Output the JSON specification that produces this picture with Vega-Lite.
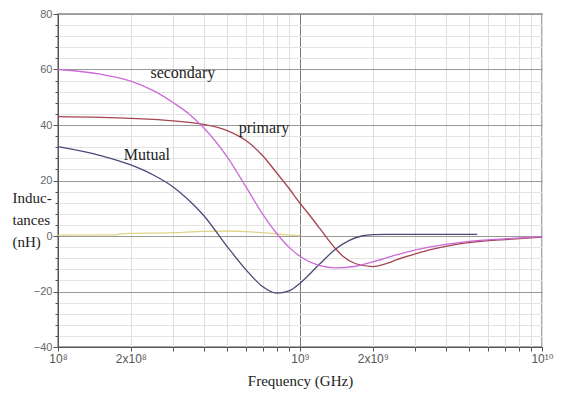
{
  "$schema": "https://vega.github.io/schema/vega-lite/v6.json",
  "width": 484,
  "height": 333,
  "autosize": {"type": "none"},
  "padding": {"left": 58, "top": 14, "right": 21, "bottom": 51},
  "background": "white",
  "config": {"view": {"stroke": "#8a8a8a", "strokeWidth": 1.5}},
  "datasets": {
    "curves": [
      {"series": "yellow", "f": 1e8, "v": 0.3},
      {"series": "yellow", "f": 1.75e8, "v": 0.4},
      {"series": "yellow", "f": 1.8e8, "v": 0.8},
      {"series": "yellow", "f": 3e8, "v": 1.2},
      {"series": "yellow", "f": 4e8, "v": 1.7},
      {"series": "yellow", "f": 5e8, "v": 1.8},
      {"series": "yellow", "f": 6e8, "v": 1.6},
      {"series": "yellow", "f": 7e8, "v": 1.2},
      {"series": "yellow", "f": 8e8, "v": 0.8},
      {"series": "yellow", "f": 9e8, "v": 0.3},
      {"series": "yellow", "f": 1e9, "v": 0.1},

      {"series": "mutual", "f": 1e8, "v": 32.2},
      {"series": "mutual", "f": 1.5e8, "v": 29.0},
      {"series": "mutual", "f": 2e8, "v": 25.6},
      {"series": "mutual", "f": 2.5e8, "v": 21.8},
      {"series": "mutual", "f": 3e8, "v": 17.6},
      {"series": "mutual", "f": 3.5e8, "v": 12.6},
      {"series": "mutual", "f": 4e8, "v": 7.4},
      {"series": "mutual", "f": 5e8, "v": -3.8},
      {"series": "mutual", "f": 6e8, "v": -12.3},
      {"series": "mutual", "f": 7e8, "v": -18.2},
      {"series": "mutual", "f": 8e8, "v": -20.6},
      {"series": "mutual", "f": 9e8, "v": -19.8},
      {"series": "mutual", "f": 1e9, "v": -17},
      {"series": "mutual", "f": 1.2e9, "v": -10.3},
      {"series": "mutual", "f": 1.4e9, "v": -4.8},
      {"series": "mutual", "f": 1.6e9, "v": -1.6},
      {"series": "mutual", "f": 1.8e9, "v": 0},
      {"series": "mutual", "f": 2e9, "v": 0.5},
      {"series": "mutual", "f": 2.3e9, "v": 0.6},
      {"series": "mutual", "f": 3e9, "v": 0.6},
      {"series": "mutual", "f": 4e9, "v": 0.6},
      {"series": "mutual", "f": 5.4e9, "v": 0.6},

      {"series": "primary", "f": 1e8, "v": 43},
      {"series": "primary", "f": 2e8, "v": 42.4},
      {"series": "primary", "f": 3e8, "v": 41.5},
      {"series": "primary", "f": 4e8, "v": 40.2},
      {"series": "primary", "f": 5e8, "v": 38.0},
      {"series": "primary", "f": 6e8, "v": 34.3},
      {"series": "primary", "f": 7e8, "v": 29.0},
      {"series": "primary", "f": 8e8, "v": 22.8},
      {"series": "primary", "f": 9e8, "v": 17.2},
      {"series": "primary", "f": 1e9, "v": 11.8},
      {"series": "primary", "f": 1.1e9, "v": 7.3},
      {"series": "primary", "f": 1.2e9, "v": 3.0},
      {"series": "primary", "f": 1.3e9, "v": -1.0},
      {"series": "primary", "f": 1.4e9, "v": -4.5},
      {"series": "primary", "f": 1.5e9, "v": -7.2},
      {"series": "primary", "f": 1.7e9, "v": -10.0},
      {"series": "primary", "f": 2e9, "v": -11},
      {"series": "primary", "f": 2.3e9, "v": -9.8},
      {"series": "primary", "f": 2.5e9, "v": -8.6},
      {"series": "primary", "f": 3e9, "v": -6.4},
      {"series": "primary", "f": 3.5e9, "v": -4.8},
      {"series": "primary", "f": 4e9, "v": -3.7},
      {"series": "primary", "f": 5e9, "v": -2.4},
      {"series": "primary", "f": 6e9, "v": -1.7},
      {"series": "primary", "f": 7e9, "v": -1.3},
      {"series": "primary", "f": 1e10, "v": -0.4},

      {"series": "secondary", "f": 1e8, "v": 60},
      {"series": "secondary", "f": 1.5e8, "v": 58.3},
      {"series": "secondary", "f": 2e8, "v": 55.8},
      {"series": "secondary", "f": 2.5e8, "v": 52.2},
      {"series": "secondary", "f": 3e8, "v": 48.0},
      {"series": "secondary", "f": 3.5e8, "v": 43.8},
      {"series": "secondary", "f": 4e8, "v": 39.0},
      {"series": "secondary", "f": 5e8, "v": 28.5},
      {"series": "secondary", "f": 6e8, "v": 17.5},
      {"series": "secondary", "f": 7e8, "v": 8.0},
      {"series": "secondary", "f": 8e8, "v": 1.0},
      {"series": "secondary", "f": 9e8, "v": -4.0},
      {"series": "secondary", "f": 1e9, "v": -7.3},
      {"series": "secondary", "f": 1.2e9, "v": -10.6},
      {"series": "secondary", "f": 1.4e9, "v": -11.5},
      {"series": "secondary", "f": 1.7e9, "v": -10.9},
      {"series": "secondary", "f": 2e9, "v": -9.3},
      {"series": "secondary", "f": 2.5e9, "v": -6.8},
      {"series": "secondary", "f": 3e9, "v": -5.0},
      {"series": "secondary", "f": 4e9, "v": -3.0},
      {"series": "secondary", "f": 5e9, "v": -1.9},
      {"series": "secondary", "f": 7e9, "v": -1.0},
      {"series": "secondary", "f": 1e10, "v": -0.2}
    ],
    "labels": [
      {"text": "secondary", "f": 3.28e8, "v": 58.7},
      {"text": "primary", "f": 7.1e8, "v": 38.9},
      {"text": "Mutual", "f": 2.33e8, "v": 29.2}
    ]
  },
  "encoding": {
    "x": {
      "field": "f",
      "type": "quantitative",
      "scale": {"type": "log", "domain": [1e8, 1e10], "nice": false},
      "axis": {
        "values": [1e8, 2e8, 3e8, 4e8, 5e8, 6e8, 7e8, 8e8, 9e8, 1e9, 2e9, 3e9, 4e9, 5e9, 6e9, 7e9, 8e9, 9e9, 1e10],
        "labelExpr": "datum.value == 1e8 ? '10⁸' : datum.value == 2e8 ? '2x10⁸' : datum.value == 1e9 ? '10⁹' : datum.value == 2e9 ? '2x10⁹' : datum.value == 1e10 ? '10¹⁰' : ''",
        "gridColor": {"condition": {"test": "datum.value == 1e9", "value": "#777777"}, "value": "#dedede"},
        "domainColor": "#555555",
        "tickColor": "#555555",
        "tickSize": 4,
        "labelFont": "Liberation Sans, DejaVu Sans",
        "labelFontSize": 12,
        "labelColor": "#555555",
        "labelFlush": false,
        "labelOverlap": false,
        "labelPadding": 2,
        "title": "Frequency (GHz)",
        "titleFont": "Liberation Serif",
        "titleFontSize": 15,
        "titleFontWeight": "normal",
        "titleColor": "#222222",
        "titlePadding": 9
      }
    },
    "y": {
      "field": "v",
      "type": "quantitative",
      "scale": {"domain": [-40, 80], "nice": false},
      "axis": {
        "values": [-40, -36, -32, -28, -24, -20, -16, -12, -8, -4, 0, 4, 8, 12, 16, 20, 24, 28, 32, 36, 40, 44, 48, 52, 56, 60, 64, 68, 72, 76, 80],
        "labelExpr": "datum.value % 20 == 0 ? datum.label : ''",
        "gridColor": {"condition": {"test": "datum.value % 20 == 0", "value": "#999999"}, "value": "#e3e3e3"},
        "tickSize": {"condition": {"test": "datum.value % 20 == 0", "value": 5}, "value": 3},
        "domainColor": "#555555",
        "tickColor": "#555555",
        "labelFont": "Liberation Sans, DejaVu Sans",
        "labelFontSize": 11,
        "labelColor": "#666666",
        "labelPadding": 1,
        "title": ["Induc-", "tances", "(nH)"],
        "titleAngle": 0,
        "titleAlign": "left",
        "titleBaseline": "top",
        "titleX": -46,
        "titleY": 176,
        "titleLineHeight": 22,
        "titleFont": "Liberation Serif",
        "titleFontSize": 15,
        "titleFontWeight": "normal",
        "titleColor": "#222222"
      }
    }
  },
  "layer": [
    {
      "data": {"name": "curves"},
      "mark": {"type": "line", "strokeWidth": 1.3, "interpolate": "monotone"},
      "encoding": {
        "color": {
          "field": "series",
          "type": "nominal",
          "scale": {"domain": ["yellow", "mutual", "primary", "secondary"], "range": ["#e0d488", "#4a4a78", "#a4454f", "#cc6ad8"]},
          "legend": null
        }
      }
    },
    {
      "data": {"name": "labels"},
      "mark": {"type": "text", "font": "Liberation Serif", "fontSize": 16, "color": "#222222"},
      "encoding": {
        "text": {"field": "text"}
      }
    }
  ]
}
